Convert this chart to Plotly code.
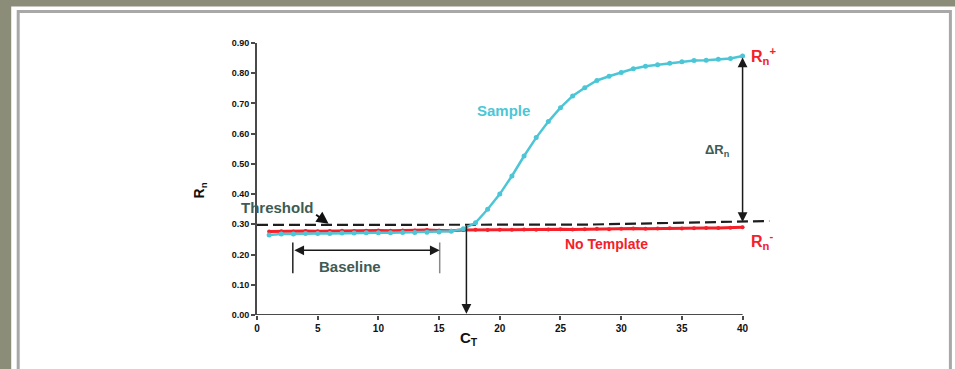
import plotly.graph_objects as go

# ---------------- data ----------------
cycles = list(range(1, 41))
sample = [0.265, 0.268, 0.268, 0.270, 0.270, 0.270, 0.271, 0.271, 0.272, 0.272,
          0.272, 0.273, 0.273, 0.274, 0.275, 0.277, 0.285, 0.305, 0.350, 0.400,
          0.460, 0.526, 0.587, 0.640, 0.686, 0.725, 0.752, 0.776, 0.790, 0.802,
          0.815, 0.823, 0.828, 0.833, 0.838, 0.842, 0.843, 0.846, 0.849, 0.857]
no_template = [0.276, 0.277, 0.276, 0.278, 0.277, 0.278, 0.279, 0.278, 0.279, 0.280,
               0.279, 0.280, 0.280, 0.281, 0.280, 0.279, 0.281, 0.282, 0.281, 0.282,
               0.282, 0.283, 0.282, 0.283, 0.284, 0.283, 0.284, 0.285, 0.284, 0.285,
               0.286, 0.285, 0.286, 0.287, 0.286, 0.287, 0.288, 0.288, 0.289, 0.290]
threshold_x = [0.0, 27.0, 42.2]
threshold_y = [0.298, 0.299, 0.311]
x_ticks = [0, 5, 10, 15, 20, 25, 30, 35, 40]
y_ticks = [0.0, 0.1, 0.2, 0.3, 0.4, 0.5, 0.6, 0.7, 0.8, 0.9]
y_tick_labels = ["0.00", "0.10", "0.20", "0.30", "0.40", "0.50", "0.60", "0.70", "0.80", "0.90"]
ct_cycle = 17.25
baseline_start, baseline_end = 2.95, 15.05
rn_plus, rn_minus = 0.852, 0.303

# ---------------- layout geometry ----------------
W, H = 955, 369
L, T = 257, 42.5
XMAX = 43
PW = XMAX * 12.15
R = W - L - PW
BOT = 314.7
B = H - BOT
PH = BOT - T

def px(x):
    return (x - L) / PW

def py(y):
    return (BOT - y) / PH

CYAN = "#4cc6d6"
RED = "#f4202a"
DARK = "#3c5c54"
AXC = "#4a4a4a"
TEX = "#8c8d79"
FONT = "Liberation Sans"

fig = go.Figure()

fig.add_trace(go.Scatter(x=threshold_x, y=threshold_y, mode="lines",
                         line=dict(color="#1e1e1e", width=2.2, dash="11px,5px"),
                         hoverinfo="skip", showlegend=False))
fig.add_trace(go.Scatter(x=cycles, y=no_template, mode="lines+markers",
                         line=dict(color=RED, width=3),
                         marker=dict(color=RED, size=4),
                         showlegend=False))
fig.add_trace(go.Scatter(x=cycles, y=sample, mode="lines+markers",
                         line=dict(color=CYAN, width=2.5),
                         marker=dict(color=CYAN, size=5),
                         showlegend=False))

shapes = [
    # white panel
    dict(type="rect", xref="paper", yref="paper", x0=px(11), x1=px(960), y0=py(6), y1=py(400),
         fillcolor="white", line=dict(width=0), layer="below"),
    # grey frame
    dict(type="rect", xref="paper", yref="paper", x0=px(18), x1=px(951), y0=py(11), y1=py(400),
         fillcolor="rgba(0,0,0,0)", line=dict(color="#a8a8a8", width=3), layer="below"),
    # x axis line
    dict(type="line", xref="x", yref="y", x0=0, x1=40, y0=0, y1=0,
         line=dict(color=AXC, width=2)),
    # baseline bars
    dict(type="line", xref="x", yref="y", x0=baseline_start, x1=baseline_start, y0=0.138, y1=0.240,
         line=dict(color="#222222", width=1.5)),
    dict(type="line", xref="x", yref="y", x0=baseline_end, x1=baseline_end, y0=0.138, y1=0.240,
         line=dict(color="#8a8a8a", width=1.5)),
]

ann = []
def arrow(x0, y0, x1, y1, both=False):
    ann.append(dict(x=x1, y=y1, ax=x0, ay=y0, xref="x", yref="y", axref="x", ayref="y",
                    text="", showarrow=True, arrowhead=2, arrowsize=1.3, arrowwidth=1.5,
                    arrowcolor="#1a1a1a", arrowside="end+start" if both else "end",
                    startarrowhead=2, startarrowsize=1.3))

arrow(baseline_start, 0.214, baseline_end, 0.214, both=True)
arrow(ct_cycle, 0.300, ct_cycle, 0.004)
arrow(40, rn_minus, 40, rn_plus, both=True)
ann.append(dict(x=5.9, y=0.302, ax=-14, ay=-10, xref="x", yref="y", text="", showarrow=True,
                arrowhead=2, arrowsize=1.2, arrowwidth=2, arrowcolor="#111111"))

def label(x, y, text, color, size=14, angle=0, ref="data"):
    if ref == "data":
        d = dict(x=x, y=y, xref="x", yref="y")
    else:
        d = dict(x=px(x), y=py(y), xref="paper", yref="paper")
    d.update(text=text, showarrow=False, textangle=angle, xanchor="center", yanchor="middle",
             font=dict(family=FONT, size=size, color=color, weight="bold"))
    ann.append(d)

label(1.65, 0.356, "Threshold", DARK, size=15)
label(7.65, 0.161, "Baseline", DARK, size=15)
label(20.3, 0.677, "Sample", CYAN, size=15)
label(28.8, 0.234, "No Template", RED, size=14)
label(37.9, 0.545, "ΔR<sub>n</sub>", DARK, size=13)
label(41.7, 0.858, "R<sub>n</sub><sup>+</sup>", RED, size=16)
label(41.6, 0.245, "R<sub>n</sub><sup>-</sup>", RED, size=16)
# axis titles (pixel positions)
label(469, 338, "C<sub>T</sub>", "#111111", size=15, ref="px")
label(200, 190, "R<sub>n</sub>", "#111111", size=14, angle=-90, ref="px")

fig.update_layout(
    width=W, height=H,
    margin=dict(l=L, r=R, t=T, b=B, pad=0),
    paper_bgcolor=TEX, plot_bgcolor="rgba(0,0,0,0)",
    shapes=shapes, annotations=ann, showlegend=False,
    xaxis=dict(range=[0, XMAX], tickvals=x_ticks, ticks="outside", ticklen=4, tickwidth=1.5,
               tickcolor=AXC, showgrid=False, zeroline=False, showline=False,
               tickfont=dict(family=FONT, size=10, color="#111111", weight="bold")),
    yaxis=dict(range=[0, 0.9], tickvals=y_ticks, ticktext=y_tick_labels, ticks="outside",
               ticklen=4, tickwidth=1.5, tickcolor=AXC, showgrid=False, zeroline=False,
               showline=True, linecolor=AXC, linewidth=2,
               tickfont=dict(family=FONT, size=9, color="#111111", weight="bold")),
)

fig.write_html("out.html", config={"displayModeBar": False},
               post_script="document.body.style.margin='0';document.body.style.overflow='hidden';"
                           "document.body.style.background='" + TEX + "';")
